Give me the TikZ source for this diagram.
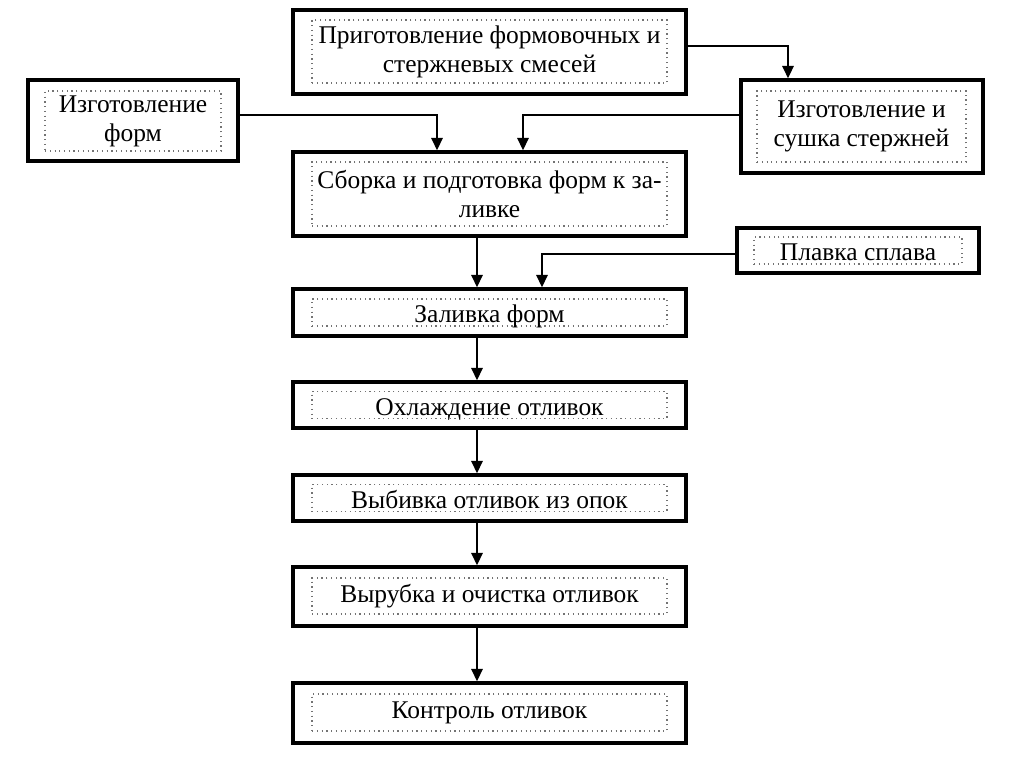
\documentclass[tikz,border=0pt]{standalone}
\usepackage{fontspec}
\setmainfont{Liberation Serif}
\usetikzlibrary{arrows.meta}
\begin{document}
\begin{tikzpicture}[x=0.02cm,y=-0.02cm,
 box/.style={draw, line width=2pt, inner sep=0pt},
 inbox/.style={draw=black!55, dotted, line width=0.7pt, inner sep=0pt, align=center, font=\fontsize{14.5}{16.5}\selectfont},
 lowtext/.style={text height=0.47cm, text depth=0.07cm},
 conn/.style={line width=0.9pt, -{Triangle[width=6.5pt,length=7pt]}}]
\useasboundingbox[fill=white] (0,0) rectangle (1024,767);

\node[box, minimum width=7.86cm, minimum height=1.68cm] (prig) at (489.5,52) {};
\node[inbox, minimum width=7.1cm, minimum height=1.26cm] (prigT) at (489.5,51.5) {Приготовление формовочных и\\стержневых смесей};

\node[box, minimum width=4.2cm, minimum height=1.62cm] (izf) at (133,120.5) {};
\node[inbox, minimum width=3.52cm, minimum height=1.2cm] (izfT) at (133,121) {Изготовление\\форм};

\node[box, minimum width=4.84cm, minimum height=1.86cm] (izs) at (862,126.5) {};
\node[inbox, minimum width=4.18cm, minimum height=1.42cm] (izsT) at (861.5,126.5) {Изготовление и\\сушка стержней};

\node[box, minimum width=7.86cm, minimum height=1.68cm] (sb) at (489.5,194) {};
\node[inbox, minimum width=7.1cm, minimum height=1.28cm] (sbT) at (489.5,194) {Сборка и подготовка форм к за-\\ливке};

\node[box, minimum width=4.84cm, minimum height=0.9cm] (pl) at (858,250.5) {};
\node[inbox, lowtext, minimum width=4.16cm] (plT) at (858,250.5) {Плавка сплава};

\node[box, minimum width=7.86cm, minimum height=0.94cm] (zal) at (489.5,312.5) {};
\node[inbox, lowtext, minimum width=7.1cm] (zalT) at (489.5,312.5) {Заливка форм};

\node[box, minimum width=7.86cm, minimum height=0.92cm] (ohl) at (489.5,405) {};
\node[inbox, lowtext, minimum width=7.1cm] (ohlT) at (489.5,405) {Охлаждение отливок};

\node[box, minimum width=7.86cm, minimum height=0.92cm] (vyb) at (489.5,498) {};
\node[inbox, lowtext, minimum width=7.1cm] (vybT) at (489.5,498) {Выбивка отливок из опок};

\node[box, minimum width=7.86cm, minimum height=1.18cm] (vyr) at (489.5,596.5) {};
\node[inbox, minimum width=7.1cm, minimum height=0.72cm] (vyrT) at (489.5,596) {Вырубка и очистка отливок};

\node[box, minimum width=7.86cm, minimum height=1.2cm] (kon) at (489.5,713) {};
\node[inbox, minimum width=7.1cm, minimum height=0.74cm] (konT) at (489.5,712.5) {Контроль отливок};

\draw[conn] ([yshift=0.12cm]prig.east) -| ([xshift=-1.48cm]izs.north);
\draw[conn] ([yshift=0.11cm]izf.east) -| ([xshift=-1.05cm]sb.north);
\draw[conn] ([yshift=0.23cm]izs.west) -| ([xshift=0.67cm]sb.north);
\draw[conn] ([xshift=-0.25cm]sb.south) -- ([xshift=-0.25cm]zal.north);
\draw[conn] ([yshift=-0.07cm]pl.west) -| ([xshift=1.05cm]zal.north);
\draw[conn] ([xshift=-0.25cm]zal.south) -- ([xshift=-0.25cm]ohl.north);
\draw[conn] ([xshift=-0.25cm]ohl.south) -- ([xshift=-0.25cm]vyb.north);
\draw[conn] ([xshift=-0.25cm]vyb.south) -- ([xshift=-0.25cm]vyr.north);
\draw[conn] ([xshift=-0.25cm]vyr.south) -- ([xshift=-0.25cm]kon.north);
\end{tikzpicture}
\end{document}
